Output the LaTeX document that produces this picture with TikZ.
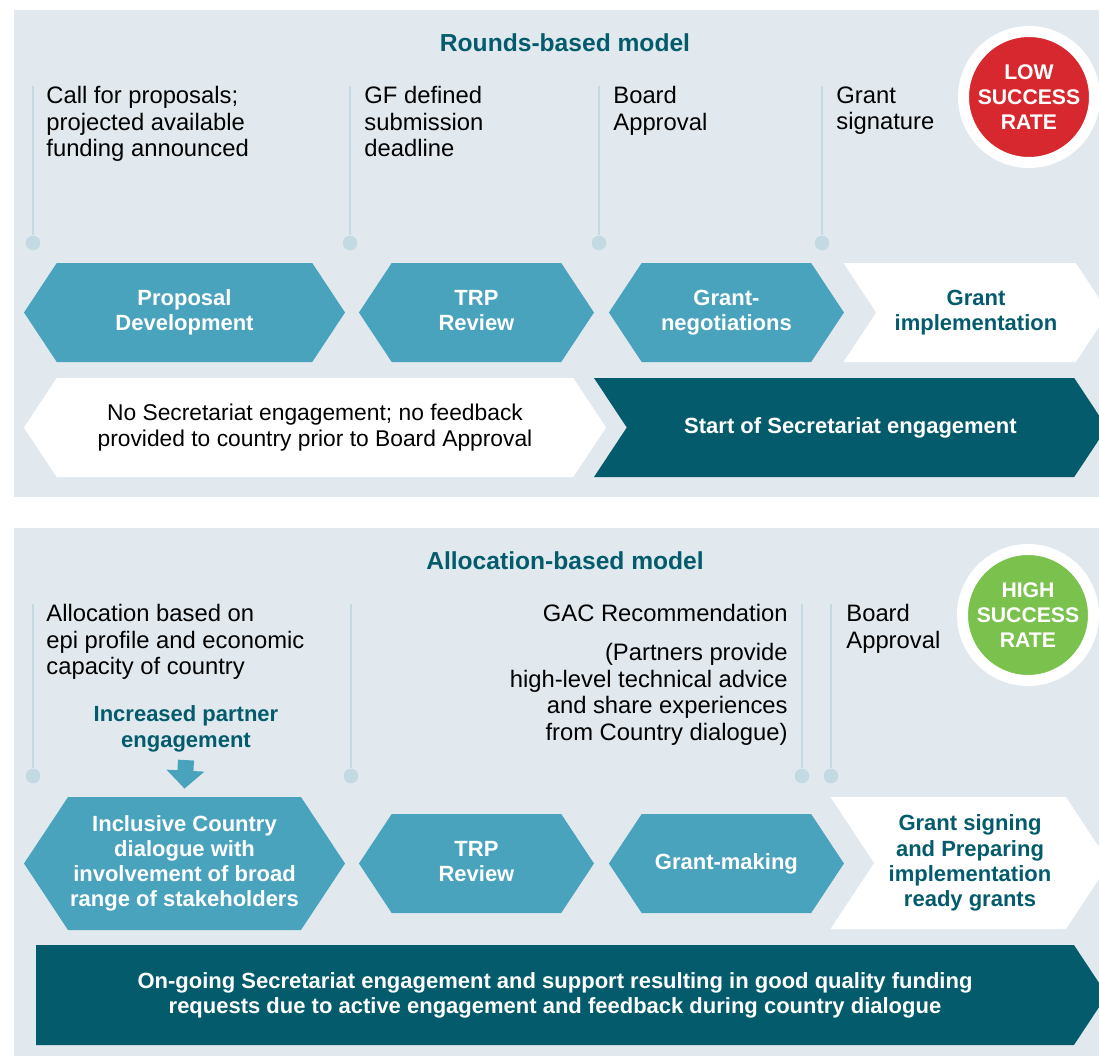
\documentclass[tikz,border=0pt]{standalone}
\usepackage{fontspec}
\setmainfont{Liberation Sans}
\usetikzlibrary{positioning}
\usetikzlibrary{shapes.symbols}
\usetikzlibrary{arrows.meta}

\definecolor{panelbg}{RGB}{225,233,239}
\definecolor{hexblue}{RGB}{74,163,189}
\definecolor{deepteal}{RGB}{3,91,108}
\definecolor{tickgrey}{RGB}{195,218,226}
\definecolor{lowred}{RGB}{214,40,46}
\definecolor{highgreen}{RGB}{123,193,78}

\begin{document}
\begin{tikzpicture}[
                x=0.5pt, y=-0.5pt,
                panel/.style = {fill=panelbg},
                modeltitle/.style = {
                    inner sep=0pt,
                    text=deepteal,
                    font=\fontsize{12.3}{14}\selectfont\bfseries
                },
                note/.style = {
                    anchor=north west,
                    inner sep=0pt,
                    align=left,
                    font=\fontsize{11.9}{13.3}\selectfont
                },
                tickline/.style = {draw=tickgrey, line width=0.8pt},
                tickdot/.style = {
                    circle,
                    fill=tickgrey,
                    minimum size=7.3pt,
                    inner sep=0pt
                },
                hex/.style 2 args = {
                    signal,
                    signal to=west and east,
                    signal pointer angle=113,
                    minimum width=#1*0.5pt,
                    minimum height=#2*0.5pt,
                    inner sep=0pt,
                    fill=hexblue,
                    text=white,
                    align=center,
                    font=\fontsize{11}{12.6}\selectfont\bfseries
                },
                chev/.style 2 args = {
                    hex={#1}{#2},
                    signal from=west,
                    signal to=east
                },
                badge/.style = {
                    circle,
                    draw=white,
                    line width=5.5pt,
                    minimum size=65.5pt,
                    inner sep=0pt,
                    text=white,
                    align=center,
                    font=\fontsize{10.6}{12.5}\selectfont\bfseries
                },
                downarr/.style = {
                    draw=hexblue,
                    line width=8pt,
                    -{Triangle[width=18.5pt,length=9pt]}
                }
            ]
            \useasboundingbox (0,0) rectangle (1099,1056);
            \clip (0,0) rectangle (1099,1056);
            % 
            \fill[panel] (14,10) rectangle (1110,497);
            \fill[panel] (14,528) rectangle (1110,1070);
            % 
            % Rounds-based model
            \node[modeltitle] (rtitle) at (565,43) {Rounds-based model};
            \foreach \x/\n in {33/a, 350/b, 599/c, 822/d} {
                \node[tickdot] (rd\n) at (\x,243) {};
                \coordinate (rt\n) at (\x,86);
                \draw[tickline] (rt\n) -- (rd\n);
            }
            \node[note] (call) at (46,86) {Call for proposals;\\projected available\\funding announced};
            \node[note] (gfdl) at (364,86) {GF defined\\submission\\deadline};
            \node[note] (brd1) at (613,86) {Board\\Approval};
            \node[note] (gsig) at (836,86) {Grant\\signature};
            \node[badge, fill=lowred] (low) at (1029,97) {LOW\\SUCCESS\\RATE};
            % 
            \node[hex={321}{99}] (prop) at (184.5,312.5) {Proposal\\Development};
            \node[hex={235}{99}, right=6.5pt of prop] (trp1) {TRP\\Review\vphantom{g}};
            \node[hex={235}{99}, right=7pt of trp1] (nego) {Grant-\\negotiations};
            \node[chev={265}{99}, fill=white, text=deepteal] (impl) at (976,312.5) {Grant\\implementation};
            % 
            \node[hex={582}{99}, fill=white, text=black,
                  font=\fontsize{11.4}{13}\selectfont] (nofb) at (315,427.5)
                 {No Secretariat engagement; no feedback\\provided to country prior to Board Approval};
            \node[chev={513}{99}, fill=deepteal] (start) at (850.5,427.5) {Start of Secretariat engagement};
            % 
            % Allocation-based model
            \node[modeltitle] (atitle) at (565,561) {Allocation-based model};
            \foreach \x/\n in {33/a, 351/b, 802/c, 831/d} {
                \node[tickdot] (ad\n) at (\x,776) {};
                \coordinate (at\n) at (\x,604);
                \draw[tickline] (at\n) -- (ad\n);
            }
            \node[note] (alloc) at (46,604) {Allocation based on\\epi profile and economic\\capacity of country};
            \node[note, anchor=north east, align=right] (gac) at (788,604) {GAC Recommendation};
            \node[note, anchor=north east, align=right] (partn) at (788,643)
                 {(Partners provide\\high-level technical advice\\and share experiences\\from Country dialogue)};
            \node[note] (brd2) at (846,604) {Board\\Approval};
            \node[badge, fill=highgreen] (high) at (1028,615) {HIGH\\SUCCESS\\RATE};
            \node[inner sep=0pt, align=center, text=deepteal,
                  font=\fontsize{11}{13}\selectfont\bfseries] (incr) at (186,729) {Increased partner\\engagement};
            % 
            \node[hex={321}{133}] (incl) at (184.5,863.5) {Inclusive Country\\dialogue with\\involvement of broad\\range of stakeholders};
            \node[hex={235}{99}, right=6.5pt of incl] (trp2) {TRP\\Review\vphantom{g}};
            \node[hex={235}{99}, right=7pt of trp2] (make) {Grant-making};
            \node[chev={279}{132}, fill=white, text=deepteal] (gsign) at (970,863) {Grant signing\\and Preparing\\implementation\\ready grants};
            \draw[downarr] ([yshift=-3.7pt]incr.south) -- ([yshift=4pt]incl.north);
            % 
            \node[hex={1071}{100}, signal to=east, fill=deepteal] (ongo) at (555,995)
                 {On-going Secretariat engagement and support resulting in good quality funding\\requests due to active engagement and feedback during country dialogue};
            % 
        \end{tikzpicture}
\end{document}
